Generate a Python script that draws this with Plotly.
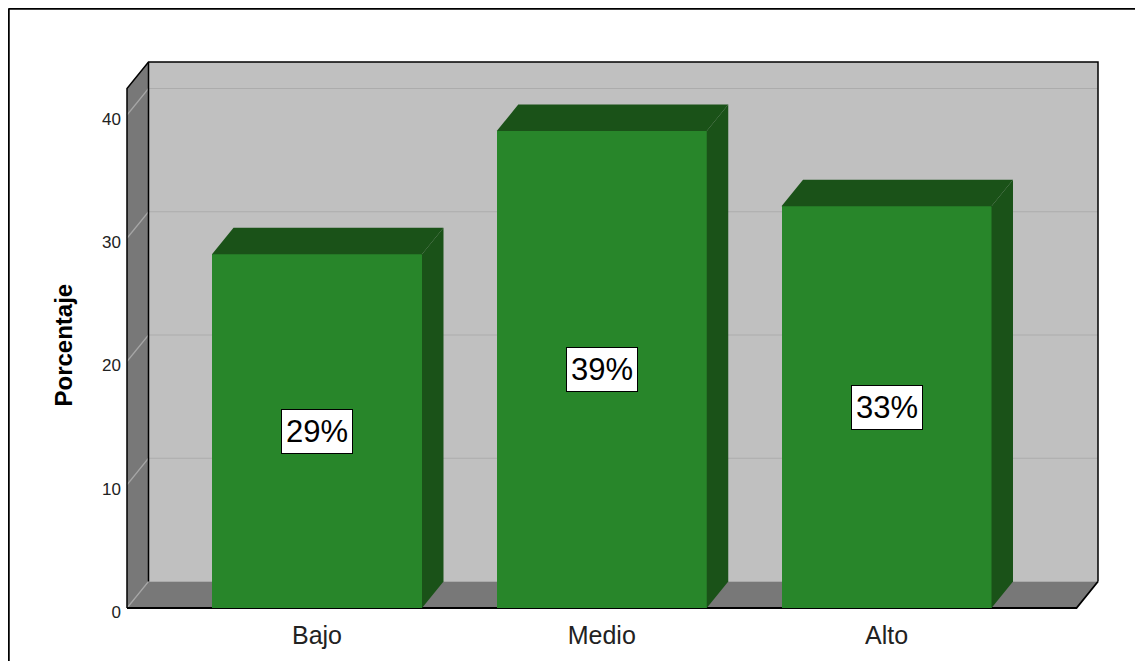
import plotly.graph_objects as go

# ---- data ----
categories = ["Bajo", "Medio", "Alto"]
percentages = [28.7, 38.7, 32.6]
y_ticks = [0, 10, 20, 30, 40]
y_title = "Porcentaje"

# ---- layout constants (page pixels; page body has an 8px margin) ----
OFF = 8
W, H = 1135, 653
PX_X = 284.75        # pixels per category unit
C0 = 317             # page x of first category centre
PX_Y = 12.325        # pixels per percent
Y0 = 608             # page y of value 0 (front plane)
PL, PR, PT, PB = 124, 1101, 59, 611   # plot area in page pixels

ML = PL - OFF
MT = PT - OFF
MR = W - (PR - OFF)
MB = H - (PB - OFF)
PLOT_W = PR - PL
PLOT_H = PB - PT

XR0 = [(PL - C0) / PX_X, (PR - C0) / PX_X]
YR0 = [(Y0 - PB) / PX_Y, (Y0 - PT) / PX_Y]

XL = (127 - C0) / PX_X   # front-left edge of left wall
XR = (1098 - C0) / PX_X  # back-right edge of back wall
YTOP = (Y0 - 62) / PX_Y  # top of back wall
DX = 21.5 / PX_X         # depth offset (x units)
DY = 26.5 / PX_Y         # depth offset (y units)
BW = 210 / PX_X          # bar width

FRONT = "#28862a"
DARK = "#1a5218"
WALL = "#c0c0c0"
SIDE = "#787878"
GRID_BACK = "#acacac"
GRID_SIDE = "#a6a6a6"
FONT = "Liberation Sans, Arial, sans-serif"

fig = go.Figure()
shapes = []


def spoly(xs, ys, color):
    path = "M " + " L ".join(f"{x},{y}" for x, y in zip(xs, ys)) + " Z"
    shapes.append(dict(type="path", path=path, xref="x", yref="y", layer="below",
                       fillcolor=color, line=dict(width=0)))


def sline(xs, ys, color, width=1.5):
    path = "M " + " L ".join(f"{x},{y}" for x, y in zip(xs, ys))
    shapes.append(dict(type="path", path=path, xref="x", yref="y", layer="below",
                       line=dict(color=color, width=width)))


def poly(xs, ys, color):
    fig.add_trace(go.Scatter(x=xs + [xs[0]], y=ys + [ys[0]], mode="lines",
                             fill="toself", fillcolor=color,
                             line=dict(width=0, color=color),
                             hoverinfo="skip", showlegend=False))


# back wall, floor, left wall
spoly([XL + DX, XR, XR, XL + DX], [DY, DY, YTOP, YTOP], WALL)
spoly([XL, XL + DX, XR, XR - DX], [0, DY, DY, 0], SIDE)
spoly([XL, XL, XL + DX, XL + DX], [0, YTOP - DY, YTOP, DY], SIDE)

# gridlines
for v in y_ticks:
    if v > 0:
        sline([XL + DX, XR], [v + DY, v + DY], GRID_BACK, 1.2)
    sline([XL, XL + DX], [v, v + DY], GRID_SIDE, 1.2)

# outlines
sline([XL, XL, XL + DX, XR, XR], [0, YTOP - DY, YTOP, YTOP, DY], "black", 1.5)
sline([XL + DX, XL + DX], [DY, YTOP], "black", 1.5)
sline([XL, XR - DX, XR], [0, 0, DY], "black", 1.8)

# bars: front faces
xs_idx = list(range(len(categories)))
fig.add_trace(go.Bar(x=xs_idx, y=percentages, width=BW,
                     marker=dict(color=FRONT, line=dict(width=0)),
                     hoverinfo="skip", showlegend=False))

# bars: side + top faces
for i, v in zip(xs_idx, percentages):
    r = i + BW / 2
    l = i - BW / 2
    poly([r, r, r + DX, r + DX], [0, v, v + DY, DY], DARK)
    poly([l, l + DX, r + DX, r], [v, v + DY, v + DY, v], DARK)

# value labels
for i, v in zip(xs_idx, percentages):
    fig.add_annotation(x=i, y=v / 2, text=f"{round(v)}%", showarrow=False,
                       font=dict(size=31, color="black", family=FONT),
                       bgcolor="white", bordercolor="black", borderwidth=1,
                       borderpad=4, xanchor="center", yanchor="middle")

# y-axis title
fig.add_annotation(xref="paper", yref="paper",
                   x=(62.5 - PL) / PLOT_W, y=(PB - 345) / PLOT_H,
                   text=f"<b>{y_title}</b>", textangle=-90, showarrow=False,
                   font=dict(size=24, color="black", family=FONT),
                   xanchor="center", yanchor="middle")

# outer frame (top and left edges visible)
fx = (OFF + 0.5 - PL) / PLOT_W
fy = (PB - (OFF + 0.5)) / PLOT_H
shapes.append(dict(type="line", xref="paper", yref="paper", x0=fx, x1=1.2, y0=fy, y1=fy,
                   line=dict(color="black", width=2.5)))
shapes.append(dict(type="line", xref="paper", yref="paper", x0=fx, x1=fx, y0=fy, y1=-0.2,
                   line=dict(color="black", width=2.5)))

fig.update_layout(
    width=W, height=H, autosize=False,
    margin=dict(l=ML, r=MR, t=MT, b=MB, pad=0),
    paper_bgcolor="white", plot_bgcolor="white",
    font=dict(family=FONT, color="black"),
    bargap=0,
    shapes=shapes,
    xaxis=dict(range=XR0, showgrid=False, zeroline=False, showline=False,
               tickvals=xs_idx, ticktext=categories, ticks="",
               tickfont=dict(size=25, color="#222222", family=FONT),
               ticklabelstandoff=7, fixedrange=True),
    yaxis=dict(range=YR0, showgrid=False, zeroline=False, showline=False,
               tickvals=y_ticks, ticks="",
               tickfont=dict(size=17, color="#222222", family=FONT),
               ticklabelstandoff=2, ticklabelshift=4, fixedrange=True),
)

fig.write_html("out.html")
